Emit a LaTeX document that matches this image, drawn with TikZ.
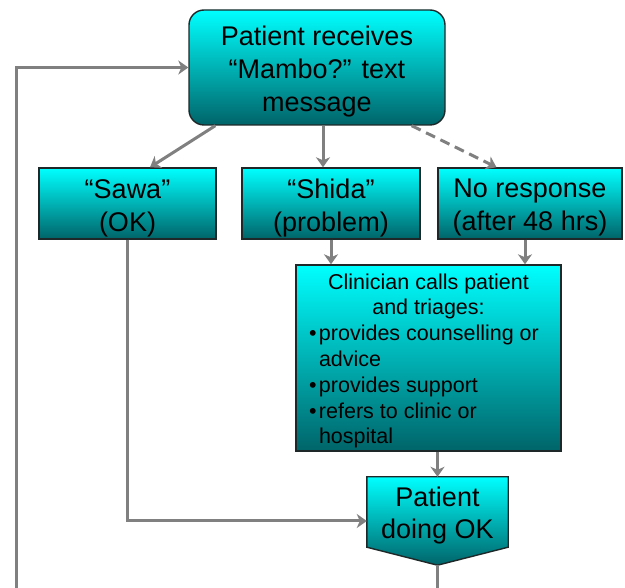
\documentclass[tikz,border=0pt]{standalone}
\usepackage{fontspec}
\setmainfont{Liberation Sans}
\usetikzlibrary{arrows.meta,calc}
\definecolor{linegray}{RGB}{128,128,128}
\definecolor{boxtop}{RGB}{0,255,255}
\definecolor{boxmid}{RGB}{0,205,210}
\definecolor{boxbot}{RGB}{0,100,105}
\definecolor{boxline}{RGB}{30,40,40}
\tikzset{
  box/.style={draw=boxline, line width=1.4pt, top color=boxtop, middle color=boxmid, bottom color=boxbot,
    inner sep=0pt},
  txt/.style={inner sep=0pt, align=center, font=\fontsize{27}{33}\selectfont},
  conn/.style={draw=linegray, line width=3pt, -{Stealth[length=10pt,width=14pt,inset=3pt]}},
  plain/.style={draw=linegray, line width=3pt},
}
\newcommand{\bulitem}[1]{\hangindent=18pt\hangafter=1\noindent\hspace*{8pt}\makebox[10pt][l]{\textbullet}#1\par}
\begin{document}
\begin{tikzpicture}[x=1pt,y=-1pt]
\fill[white] (0,0) rectangle (625,588);
\useasboundingbox (0,0) rectangle (625,588);

\node[box, rounded corners=15pt, minimum width=256, minimum height=115] (top) at (317,67.5) {};
\node[txt] (toptext) at (317,72) {Patient receives\\“Mambo?” text\\message};

\node[box, minimum width=177, minimum height=71] (sawa) at (127.5,203.5) {};
\node[txt] (sawatext) at (127.5,208) {“Sawa”\\(OK)};
\node[box, minimum width=178, minimum height=71] (shida) at (331,203.5) {};
\node[txt] (shidatext) at (331,208) {“Shida”\\(problem)};
\node[box, minimum width=184, minimum height=71] (nores) at (530,203.5) {};
\node[txt] (norestext) at (530,208) {No response\\(after 48 hrs)};

\node[box, minimum width=265, minimum height=186] (clin) at (428.5,358) {};
\node[inner sep=0pt, font=\fontsize{21.5}{25.8}\selectfont] (clintext) at (428.5,361)
  {\begin{minipage}{255pt}\centering Clinician calls patient\\and triages:\par
   \raggedright
   \bulitem{provides counselling or\newline advice}
   \bulitem{provides support}
   \bulitem{refers to clinic or\newline hospital}
   \end{minipage}};

% Patient doing OK (pentagon pointing down)
\node[minimum width=141, minimum height=88, inner sep=0pt] (ok) at (437.5,521) {};
\path[draw=boxline, line width=1.4pt, top color=boxtop, middle color=boxmid, bottom color=boxbot]
  (ok.north west) -- (ok.north east) -- ($(ok.south east)+(0,-18)$) -- (ok.south) -- ($(ok.south west)+(0,-18)$) -- cycle;
\node[txt, font=\fontsize{27}{32}\selectfont] (oktext) at (437.5,516) {Patient\\doing OK};

\coordinate (loopbot) at (16,588);
\coordinate (okbot) at (437.5,588);
\coordinate (a1) at ($(top.south west)+(27,0)$);
\coordinate (a1e) at ($(sawa.north)+(22.5,0)$);
\coordinate (a2) at ($(top.south)+(6,0)$);
\coordinate (a2e) at (a2 |- shida.north);
\coordinate (a3) at ($(top.south east)+(-34,0)$);
\coordinate (a3e) at ($(nores.north)+(-33.5,0)$);
\coordinate (a4) at (shida.south);
\coordinate (a4e) at (a4 |- clin.north);
\coordinate (a5) at ($(nores.south)+(-5,0)$);
\coordinate (a5e) at (a5 |- clin.north);
\coordinate (a6) at (ok.north |- clin.south);

% connectors
\draw[conn] (a1) -- (a1e);
\draw[conn] (a2) -- (a2e);
\draw[conn, dash pattern=on 10pt off 6pt] (a3) -- (a3e);
\draw[conn] (a4) -- (a4e);
\draw[conn] (a5) -- (a5e);
\draw[conn] (a6) -- (ok.north);
\draw[conn] (sawa.south) |- (ok.west);
\draw[plain] (ok.south) -- (okbot);
\draw[conn] (loopbot) |- (top.west);
\end{tikzpicture}
\end{document}
